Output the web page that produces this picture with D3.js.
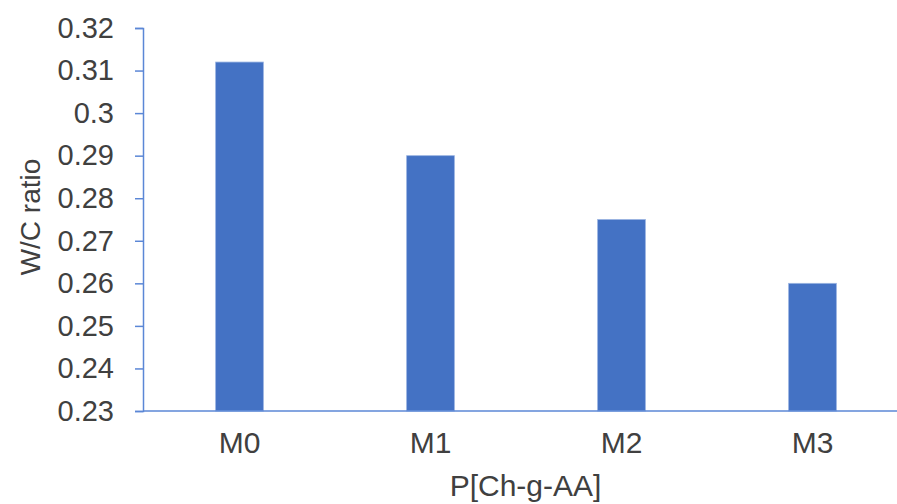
<!DOCTYPE html>
<html><head><meta charset="utf-8">
<script src="https://cdn.jsdelivr.net/npm/d3@7"></script>
<style>body{margin:0;background:#fff}svg{display:block}text{font-family:"Liberation Sans",Arial,sans-serif;fill:#404040}</style>
</head><body><svg id="c" width="897" height="504"></svg>
<script>
const categories = ["M0","M1","M2","M3"];
const values = [0.312, 0.290, 0.275, 0.260];
const yTicks = [0.23,0.24,0.25,0.26,0.27,0.28,0.29,0.30,0.31,0.32];
const yTickLabels = ["0.23","0.24","0.25","0.26","0.27","0.28","0.29","0.3","0.31","0.32"];
const xTitle = "P[Ch-g-AA]";
const yTitle = "W/C ratio";

(function(){
const svg = d3.select("#c");
const mL = 143, mR = 908, mT = 28, mB = 411;
const x = d3.scaleBand().domain(categories).range([mL + 1, mR]).paddingInner(0.75).paddingOuter(0.375);
const y = d3.scaleLinear().domain([0.23, 0.32]).range([mB, mT]);
const axisColor = "#5b87d6";

svg.append("g").selectAll("rect").data(values).join("rect")
  .attr("x", (d,i) => x(categories[i]))
  .attr("width", x.bandwidth())
  .attr("y", d => y(d))
  .attr("height", d => y(0.23) - y(d))
  .attr("fill", "#4472c4")
  .attr("stroke", "#9ab4e2").attr("stroke-width", 0.8);

const ya = svg.append("g").attr("transform", `translate(${mL},0)`)
  .call(d3.axisLeft(y).tickValues(yTicks).tickFormat((d,i) => yTickLabels[i]).tickSizeOuter(0).tickSize(8).tickPadding(21));
ya.select(".domain").attr("stroke", axisColor).attr("stroke-width", 1.5);
ya.selectAll(".tick line").attr("stroke", axisColor).attr("stroke-width", 1.5);
ya.selectAll("text").style("font-size", "29px").attr("fill", "#404040");

const xa = svg.append("g").attr("transform", `translate(0,${mB})`)
  .call(d3.axisBottom(x).tickSize(0).tickPadding(21));
xa.select(".domain").attr("stroke", axisColor).attr("stroke-width", 1.5).attr("d", `M${mL},0H${mR}`);
xa.selectAll("text").style("font-size", "30px").attr("fill", "#404040");

svg.append("text").attr("x", 525.5).attr("y", 496)
  .attr("text-anchor", "middle").style("font-size", "30px").text(xTitle);
svg.append("text").attr("transform", `translate(40,217) rotate(-90)`)
  .attr("text-anchor", "middle").style("font-size", "28px").text(yTitle);
})();
</script></body></html>
